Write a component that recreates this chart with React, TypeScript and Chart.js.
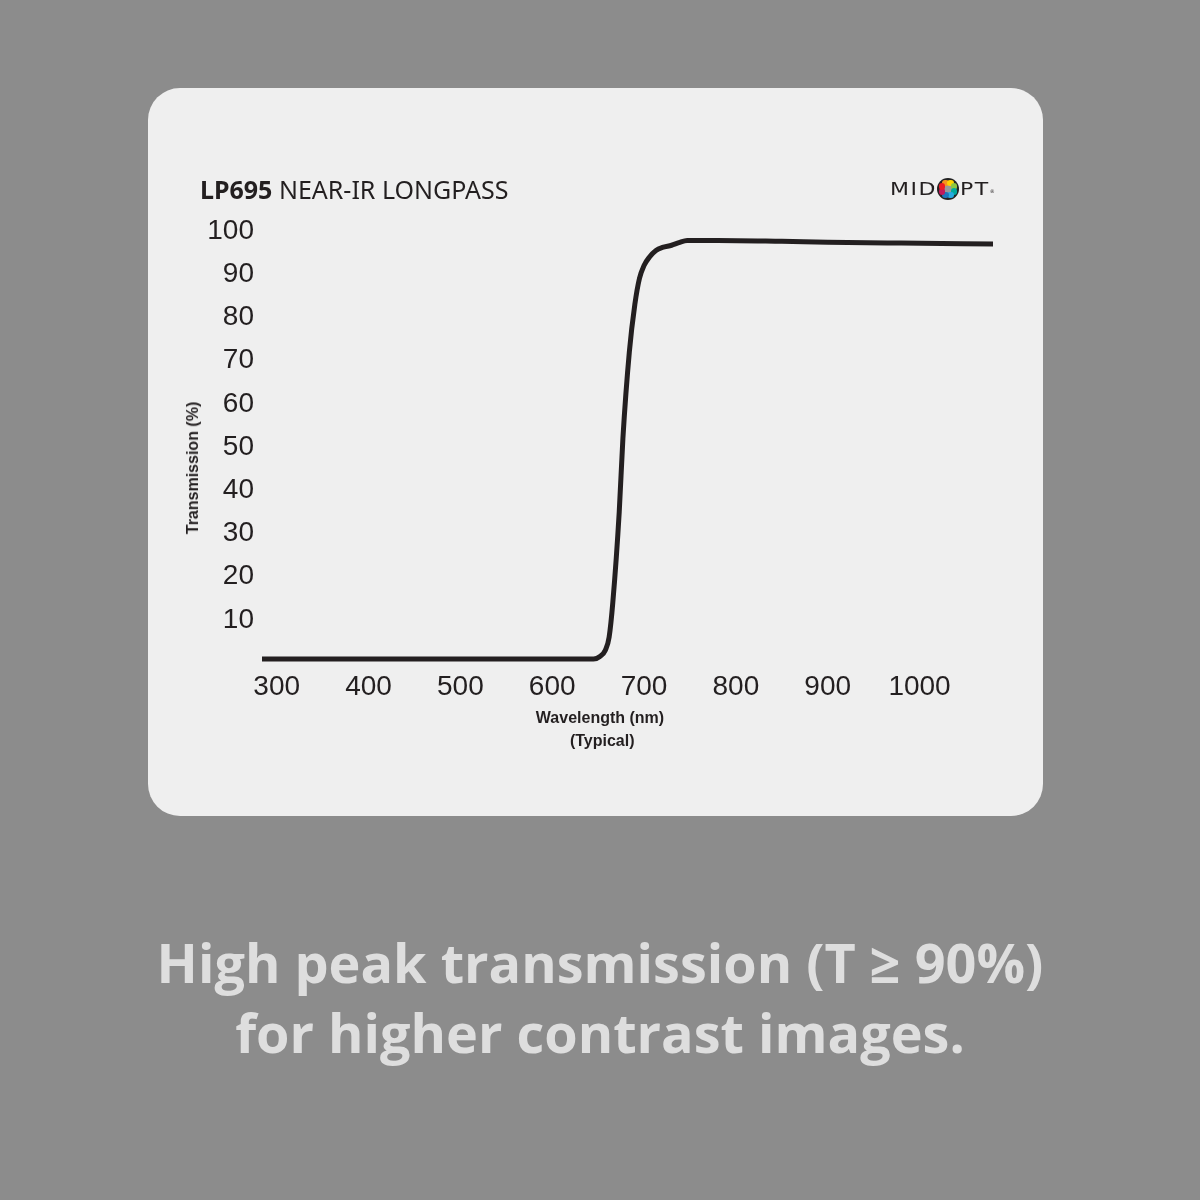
import React, { useEffect, useRef } from "react";
import { Chart, registerables } from "chart.js";

Chart.register(...registerables);

const wavelengths = [284, 400, 500, 600, 645, 652, 658, 662, 666, 673, 677, 684, 690, 695, 700, 706, 713, 720, 730, 738, 747, 780, 850, 900, 980, 1080];
const transmission = [0.9, 0.9, 0.9, 0.9, 0.9, 1.5, 3, 6, 14, 35, 52, 72, 83, 89, 92, 94, 95.5, 96.2, 96.7, 97.3, 97.8, 97.8, 97.6, 97.4, 97.2, 97.0];
const xTickValues = [300, 400, 500, 600, 700, 800, 900, 1000];
const yTickValues = [10, 20, 30, 40, 50, 60, 70, 80, 90, 100];

const titleBold = "LP695";
const titleRest = " NEAR-IR LONGPASS";
const yAxisTitle = "Transmission (%)";
const xAxisTitle1 = "Wavelength (nm)";
const xAxisTitle2 = "(Typical)";
const caption1 = "High peak transmission (T ≥ 90%)";
const caption2 = "for higher contrast images.";

const dotColors = ["#f7941d", "#ffd200", "#8dc63f", "#00a99d", "#27aae1", "#1c75bc", "#c2185b", "#ed1c24"];

function Logo() {
  const size = 22;
  const r = 6.5;
  return (
    <div style={{ position: "absolute", left: 742, top: 88, display: "flex", alignItems: "center", fontFamily: "'DejaVu Sans', sans-serif", fontSize: 22, letterSpacing: 1.5, color: "#231f20", lineHeight: "22px" }}>
      <span style={{ transform: "scaleY(0.8)", display: "inline-block" }}>MID</span>
      <div style={{ position: "relative", width: size, height: size, borderRadius: "50%", background: "#222", margin: "0 1px 0 0" }}>
        <div style={{ position: "absolute", left: 6, top: 6, width: 10, height: 10, borderRadius: "50%", background: "#9a9a9a" }} />
        {dotColors.map((c, i) => {
          const a = (i / dotColors.length) * Math.PI * 2 - Math.PI / 2 - Math.PI / 8;
          const cx = size / 2 + r * Math.cos(a);
          const cy = size / 2 + r * Math.sin(a);
          return <div key={i} style={{ position: "absolute", left: cx - 3.3, top: cy - 3.3, width: 6.6, height: 6.6, borderRadius: "50%", background: c }} />;
        })}
      </div>
      <span style={{ transform: "scaleY(0.8)", display: "inline-block" }}>PT</span>
      <span style={{ fontSize: 5, alignSelf: "flex-start", marginTop: 4 }}>®</span>
    </div>
  );
}

export default function App() {
  const ref = useRef<HTMLCanvasElement>(null);
  useEffect(() => {
    if (!ref.current) return;
    const chart = new Chart(ref.current, {
      type: "line",
      data: {
        datasets: [
          {
            data: wavelengths.map((w, i) => ({ x: w, y: transmission[i] })),
            borderColor: "#231f20",
            borderWidth: 5,
            pointRadius: 0,
            cubicInterpolationMode: "monotone",
            borderCapStyle: "round",
            borderJoinStyle: "round",
            fill: false,
          },
        ],
      },
      options: {
        animation: false,
        responsive: false,
        plugins: { legend: { display: false }, tooltip: { enabled: false } },
        layout: { padding: { left: 0, right: 50, top: 143, bottom: 0 } },
        scales: {
          x: {
            type: "linear",
            min: 284,
            max: 1080,
            border: { display: false },
            grid: { display: false, drawTicks: false },
            afterBuildTicks: (s: any) => {
              s.ticks = xTickValues.map((v) => ({ value: v }));
            },
            afterFit: (s: any) => {
              s.height = 153;
            },
            ticks: {
              color: "#231f20",
              padding: 7,
              maxRotation: 0,
              autoSkip: false,
              font: { family: "'Liberation Sans', Arial, sans-serif", size: 28 },
              callback: (v: any) => String(v),
            },
          },
          y: {
            min: 0,
            max: 100,
            border: { display: false },
            grid: { display: false, drawTicks: false },
            afterBuildTicks: (s: any) => {
              s.ticks = yTickValues.map((v) => ({ value: v }));
            },
            afterFit: (s: any) => {
              s.width = 114;
            },
            ticks: {
              color: "#231f20",
              padding: 8,
              autoSkip: false,
              font: { family: "'Liberation Sans', Arial, sans-serif", size: 28 },
              callback: (v: any) => String(v),
            },
          },
        },
      },
    } as any);
    return () => chart.destroy();
  }, []);

  return (
    <div style={{ position: "fixed", left: 0, top: 0, width: 1200, height: 1200, background: "#8c8c8c", overflow: "hidden" }}>
      <div style={{ position: "absolute", left: 148, top: 88, width: 895, height: 728, background: "#efefef", borderRadius: 32 }}>
        <canvas ref={ref} width={895} height={728} style={{ position: "absolute", left: 0, top: 0, width: 895, height: 728 }} />
        <div style={{ position: "absolute", left: 52, top: 85, fontFamily: "'Noto Sans', sans-serif", fontSize: 25, color: "#231f20", whiteSpace: "nowrap", lineHeight: "32px" }}>
          <span style={{ fontWeight: 700 }}>{titleBold}</span>
          <span>{titleRest}</span>
        </div>
        <Logo />
        <div style={{ position: "absolute", left: 45, top: 380, width: 0, height: 0 }}>
          <div style={{ position: "absolute", transform: "translate(-50%, -50%) rotate(-90deg)", whiteSpace: "nowrap", fontFamily: "'Liberation Sans', Arial, sans-serif", fontWeight: 700, fontSize: 16, color: "#231f20" }}>{yAxisTitle}</div>
        </div>
        <div style={{ position: "absolute", left: 452, top: 618, width: 0, textAlign: "center" }}>
          <div style={{ position: "absolute", transform: "translateX(-50%)", whiteSpace: "nowrap", fontFamily: "'Liberation Sans', Arial, sans-serif", fontWeight: 700, fontSize: 16, color: "#231f20", lineHeight: "23px", textAlign: "center" }}>
            {xAxisTitle1}
            <br />
            &nbsp;{xAxisTitle2}
          </div>
        </div>
      </div>
      <div style={{ position: "absolute", left: 0, top: 927, width: 1200, textAlign: "center", fontFamily: "'Open Sans', sans-serif", fontWeight: 700, fontSize: 54, color: "#dedede", lineHeight: "70px" }}>
        {caption1}
        <br />
        {caption2}
      </div>
    </div>
  );
}
